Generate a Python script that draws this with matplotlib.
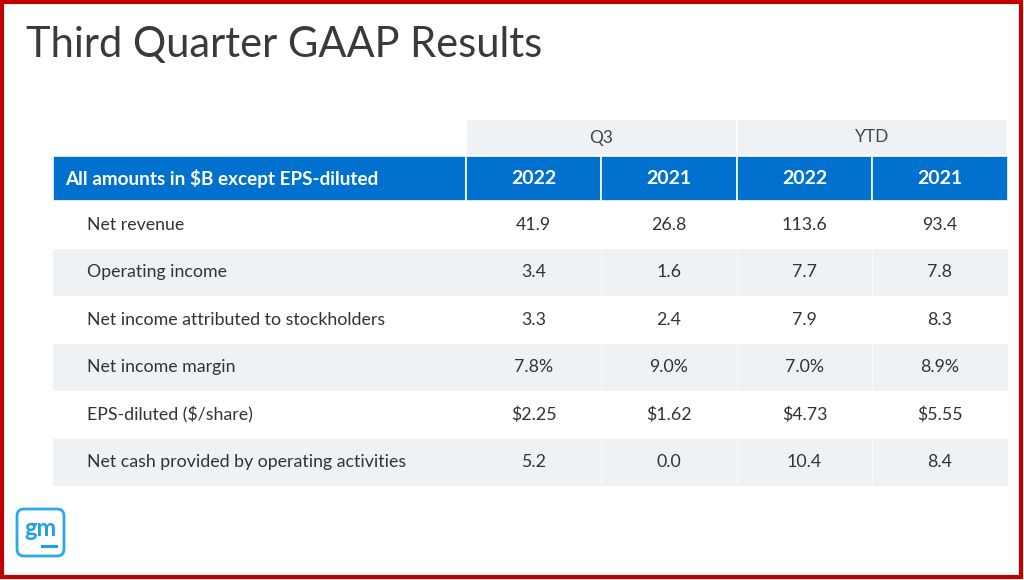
import matplotlib
matplotlib.use('Agg')
import matplotlib.pyplot as plt
from matplotlib.patches import Rectangle, FancyBboxPatch

plt.rcParams['font.family'] = ['Lato', 'DejaVu Sans']

# table data
title = 'Third Quarter GAAP Results'
groups = ['Q3', 'YTD']
years = ['2022', '2021', '2022', '2021']
header_label = 'All amounts in $B except EPS-diluted'
row_labels = ['Net revenue', 'Operating income', 'Net income attributed to stockholders',
              'Net income margin', 'EPS-diluted ($/share)',
              'Net cash provided by operating activities']
q3_2022 = ['41.9', '3.4', '3.3', '7.8%', '$2.25', '5.2']
q3_2021 = ['26.8', '1.6', '2.4', '9.0%', '$1.62', '0.0']
ytd_2022 = ['113.6', '7.7', '7.9', '7.0%', '$4.73', '10.4']
ytd_2021 = ['93.4', '7.8', '8.3', '8.9%', '$5.55', '8.4']

blue = '#0071ce'
grey = '#eef2f5'
txt = '#333333'

fig = plt.figure(figsize=(10.24, 5.8), dpi=100)
ax = fig.add_axes([0, 0, 1, 1])
ax.set_xlim(0, 1024)
ax.set_ylim(580, 0)
ax.axis('off')

# red frame
ax.add_patch(Rectangle((1.5, 1.5), 1019, 575, fill=False, edgecolor='#c00000', lw=3))

ax.text(26, 57, title, fontsize=30, color='#3a3a3a', fontweight='normal', va='baseline')

# layout
left = 53
col_edges = [466, 601, 737, 872, 1008]
top_group = 119
head_top = 156
head_h = 45
row_h = 47.5

# group header (Q3 / YTD)
for i, g in enumerate(groups):
    x0 = col_edges[2 * i]
    x1 = col_edges[2 * i + 2]
    ax.add_patch(Rectangle((x0, top_group), x1 - x0, head_top - top_group,
                           facecolor=grey, edgecolor='white', lw=1.5))
    ax.text((x0 + x1) / 2, (top_group + head_top) / 2, g, ha='center', va='center',
            fontsize=12.5, color='#444444')

# blue header row
ax.add_patch(Rectangle((left, head_top), col_edges[0] - left, head_h,
                       facecolor=blue, edgecolor='white', lw=1.2))
ax.text(65, head_top + head_h / 2, header_label, ha='left', va='center',
        fontsize=13.6, color='white', fontweight='bold')
for j, y in enumerate(years):
    x0, x1 = col_edges[j], col_edges[j + 1]
    ax.add_patch(Rectangle((x0, head_top), x1 - x0, head_h,
                           facecolor=blue, edgecolor='white', lw=1.2))
    ax.text((x0 + x1) / 2, head_top + head_h / 2, y, ha='center', va='center',
            fontsize=14, color='white', fontweight='bold')

# body rows
cols = [q3_2022, q3_2021, ytd_2022, ytd_2021]
for i, lab in enumerate(row_labels):
    y0 = head_top + head_h + i * row_h
    fc = 'white' if i % 2 == 0 else grey
    ax.add_patch(Rectangle((left, y0), col_edges[-1] - left, row_h,
                           facecolor=fc, edgecolor='none'))
    if i % 2 == 1:
        for xe in col_edges[1:-1]:
            ax.plot([xe, xe], [y0, y0 + row_h], color='white', lw=0.8, alpha=0.6)
    ym = y0 + row_h / 2
    ax.text(87, ym, lab, ha='left', va='center', fontsize=12.8, color=txt)
    for j, c in enumerate(cols):
        xc = (col_edges[j] + col_edges[j + 1]) / 2
        ax.text(xc, ym, c[i], ha='center', va='center', fontsize=12.8, color=txt)

# gm logo
ax.add_patch(FancyBboxPatch((17, 509), 47, 47, boxstyle='round,pad=0,rounding_size=7',
                            facecolor='white', edgecolor='#2aa8e8', lw=2))
ax.text(40.5, 528, 'gm', ha='center', va='center', fontsize=17, fontweight='bold',
        color='#1fa0e6')
ax.plot([42, 56], [546, 546], color='#1fa0e6', lw=2.2)

fig.savefig('out.png', dpi=100)
